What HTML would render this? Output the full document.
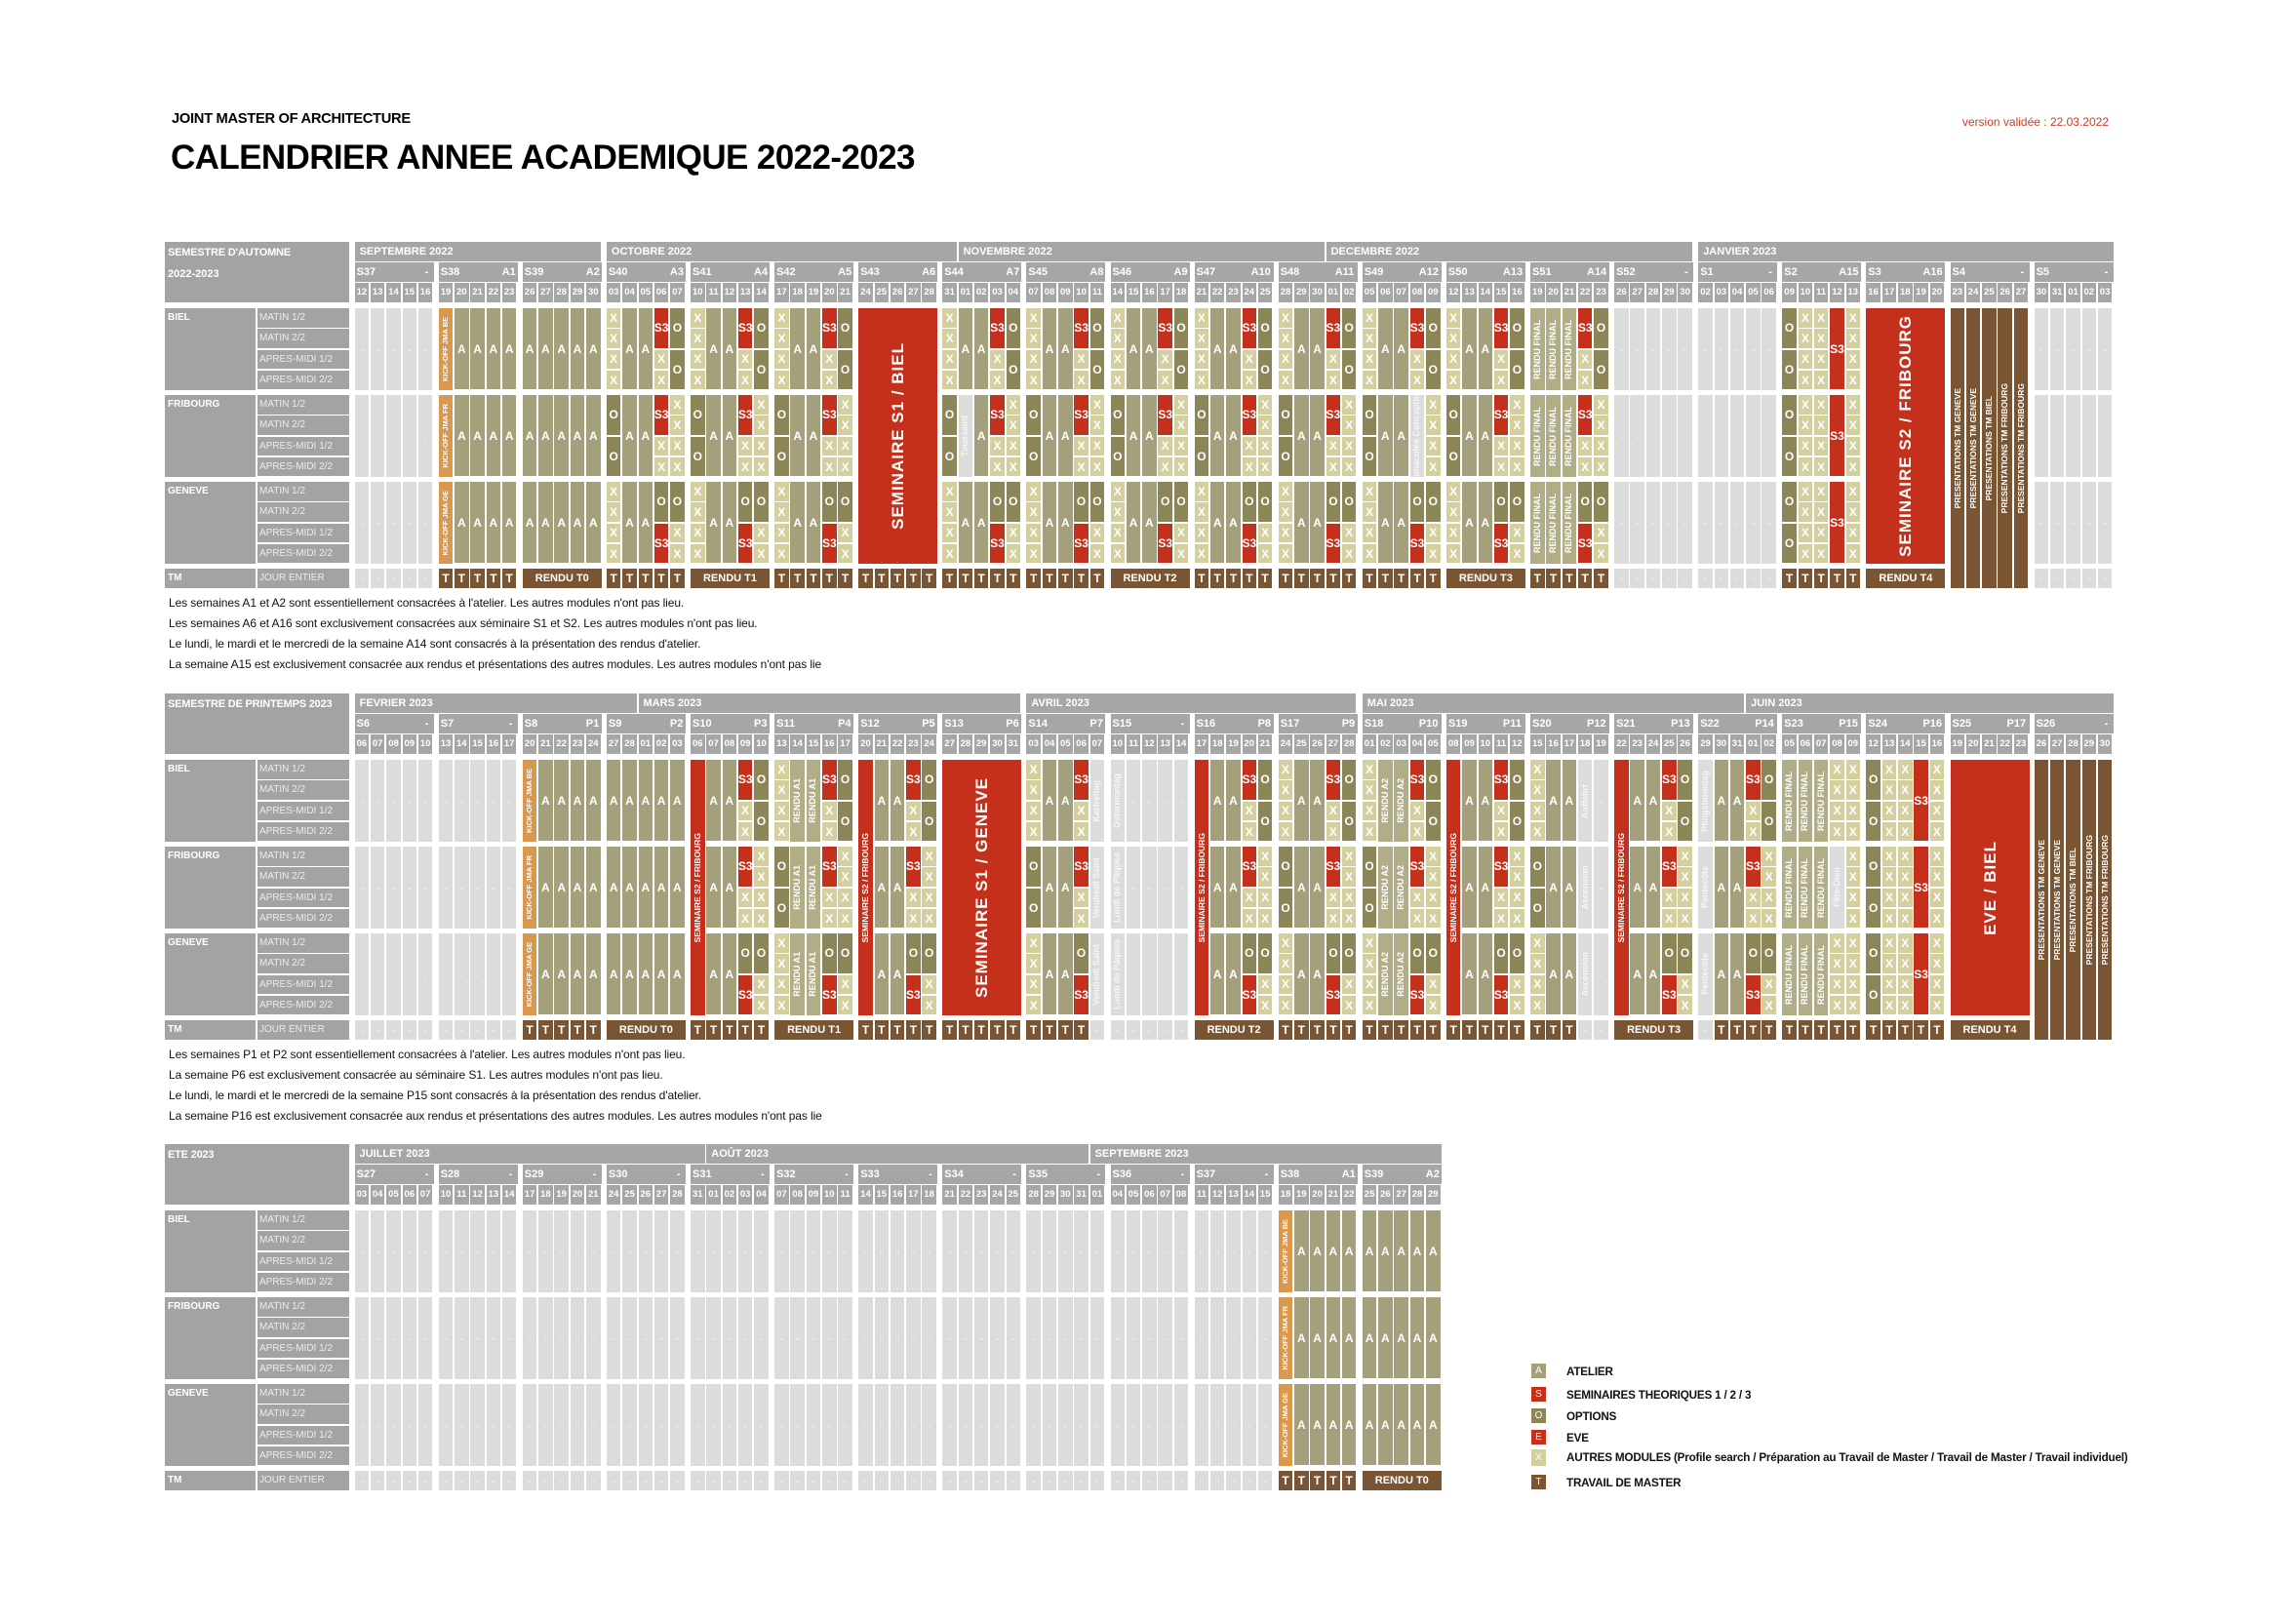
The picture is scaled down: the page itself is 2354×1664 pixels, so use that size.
<!DOCTYPE html>
<html><head><meta charset="utf-8">
<style>
body{margin:0;width:2354px;height:1664px;background:#fff;position:relative;overflow:hidden;font-family:"Liberation Sans",sans-serif;}
.b{position:absolute;box-sizing:border-box;color:#fff;display:flex;align-items:center;justify-content:center;font-size:12px;font-weight:bold;overflow:hidden;white-space:nowrap;line-height:1;}
.v{writing-mode:vertical-rl;transform:rotate(180deg);}
.t{position:absolute;white-space:nowrap;line-height:1;}
</style></head><body>
<div class="t" style="left:176px;top:115px;font-size:14.7px;font-weight:bold;letter-spacing:-0.3px">JOINT MASTER OF ARCHITECTURE</div>
<div class="t" style="left:175px;top:144px;font-size:35px;font-weight:bold;letter-spacing:-0.6px">CALENDRIER ANNEE ACADEMIQUE 2022-2023</div>
<div class="t" style="right:192px;top:119px;font-size:12px;color:#d23a22">version validée : 22.03.2022</div>
<div id="root"></div>
<script>
var C={hdr:'#a6a6a6',lab:'#a3a3a3',G:'#dcdcdc',A:'#a3a07b',X:'#d3cf9e',O:'#8b8558',S:'#c4301c',T:'#7a5533',K:'#d9984e',R:'#b1ae87'};
var root=document.getElementById('root');
function box(x,y,w,h,bg,txt,extra,vert){var d=document.createElement('div');d.className='b';d.style.cssText='left:'+x+'px;top:'+y+'px;width:'+w+'px;height:'+h+'px;background:'+bg+';'+(extra||'');
 if(txt!==undefined&&txt!==''){if(vert){var s=document.createElement('span');s.className='v';s.textContent=txt;d.appendChild(s);}else d.textContent=txt;}
 root.appendChild(d);return d;}
function txt(x,y,s,css){var d=document.createElement('div');d.className='t';d.style.cssText='left:'+x+'px;top:'+y+'px;'+(css||'');d.textContent=s;root.appendChild(d);}
var WX0=363.6,WP=86.1,DP=16.3,DW=14.6,WW=81;
function dx(w,d){return WX0+w*WP+d*DP;}
var TXT={A:'A',X:'X',O:'O',S:'S3'};
var p={A:[[0,4,'A']],X4:[[0,1,'X'],[1,2,'X'],[2,3,'X'],[3,4,'X']],OO:[[0,2,'O'],[2,4,'O']],S3t:[[0,2,'S'],[2,3,'X'],[3,4,'X']],OS:[[0,2,'O'],[2,4,'S']],OXX:[[0,2,'O'],[2,3,'X'],[3,4,'X']],SF:[[0,4,'S']]};
var STD=[['X4','A','A','S3t','OO'],['OO','A','A','S3t','X4'],['X4','A','A','OS','OXX']];
var A15=['OO','X4','X4','SF','X4'];
var cities=['BIEL','FRIBOURG','GENEVE'],subs=['MATIN 1/2','MATIN 2/2','APRES-MIDI 1/2','APRES-MIDI 2/2'];
var MN=['JANVIER','FEVRIER','MARS','AVRIL','MAI','JUIN','JUILLET','AOÛT','SEPTEMBRE','OCTOBRE','NOVEMBRE','DECEMBRE'];
function section(T,label,label2,start,nw,weeks,wlab){
 box(169,T,189,62,C.lab,'', 'display:block;');
 txt(172,T+6,label,'font-size:11px;font-weight:bold;color:#fff;letter-spacing:-0.2px');
 if(label2)txt(172,T+28,label2,'font-size:11px;font-weight:bold;color:#fff');
 var cy=[];for(var c=0;c<3;c++){var y=T+68+c*89;cy.push(y);
  box(169,y,93,84,C.lab,'','display:block');txt(172,y+5,cities[c],'font-size:10px;font-weight:bold;color:#fff');
  for(var r=0;r<4;r++){box(264,y+r*21.3,94,19.5,C.lab,'','display:block');txt(266,y+r*21.3+5,subs[r],'font-size:10px;color:#ececec');}}
 var ty=T+335;box(169,ty,93,20,C.lab,'','display:block');txt(172,ty+5,'TM','font-size:10px;font-weight:bold;color:#fff');
 box(264,ty,94,20,C.lab,'','display:block');txt(266,ty+5,'JOUR ENTIER','font-size:10px;color:#ececec');
 var dates=[];for(var w=0;w<nw;w++){dates.push([]);for(var d=0;d<5;d++){var dt=new Date(start.getTime()+(w*7+d)*86400000);dates[w].push(dt);}}
 var ms=[];for(var w=0;w<nw;w++)for(var d=0;d<5;d++){var dt=dates[w][d];var k=dt.getMonth();if(!ms.length||ms[ms.length-1].k!=k)ms.push({k:k,y:dt.getFullYear(),w0:w,d0:d,n:0});var m=ms[ms.length-1];m.w1=w;m.d1=d;m.n++;}
 if(ms[ms.length-1].n<5)ms.pop();
 ms.forEach(function(m,i){var x0=dx(m.w0,m.d0),x1=(i==ms.length-1)?dx(nw-1,0)+WW:dx(m.w1,m.d1)+DW;box(x0,T,x1-x0,20,C.hdr,'','display:block');txt(x0+5,T+5,MN[m.k]+' '+m.y,'font-size:11px;font-weight:bold;color:#fff');});
 for(var w=0;w<nw;w++){var x=dx(w,0);box(x,T+21,WW,20,C.hdr,'','display:block');txt(x+2,T+26,wlab[w][0],'font-size:11px;font-weight:bold;color:#fff');var rl=wlab[w][1];txt(x+WW-2-rl.length*7,T+26,rl,'font-size:11px;font-weight:bold;color:#fff');
  for(var d=0;d<5;d++){var n=dates[w][d].getDate();box(dx(w,d),T+42,DW,20,C.hdr,(n<10?'0':'')+n,'font-size:9.5px;font-weight:bold;');}}
 weeks.forEach(function(wk,w){
  var kind=wk.k;
  if(kind=='big'){box(dx(w,0),cy[0],WW,262,C.S,wk.txt,'font-size:17px;letter-spacing:1px;',true);}
  else if(kind=='pres'){var pt=['PRESENTATIONS TM GENEVE','PRESENTATIONS TM GENEVE','PRESENTATIONS TM BIEL','PRESENTATIONS TM FRIBOURG','PRESENTATIONS TM FRIBOURG'];for(var d=0;d<5;d++)box(dx(w,d),cy[0],DW,287,C.T,pt[d],'font-size:8.5px;justify-content:center;',true);}
  else{
   for(var c=0;c<3;c++)for(var d=0;d<5;d++){var sp=wk.days(c,d);var y=cy[c];
    if(sp[0]=='G')box(dx(w,d),y,DW,84,C.G,'-','color:#f4f4f4;font-weight:normal');
    else if(sp[0]=='K')box(dx(w,d),y,DW,84,C.K,sp[1],'font-size:7.5px;',true);
    else if(sp[0]=='R')box(dx(w,d),y,DW,84,C.R,sp[1],'font-size:9px;',true);
    else if(sp[0]=='H')box(dx(w,d),y,DW,84,C.G,sp[1],'font-size:9px;color:#f6f6f6;',true);
    else if(sp[0]=='RC'){if(c==0)box(dx(w,d),y,DW,262,C.S,'SEMINAIRE S2 / FRIBOURG','font-size:8.5px;',true);}
    else p[sp[0]].forEach(function(s){box(dx(w,d),y+s[0]*21.3,DW,(s[1]-s[0])*21.3-1.8,C[s[2]],TXT[s[2]]);});}
  }
  if(kind!='pres'){var tm=wk.tm;
   if(typeof tm=='string'&&tm.length>1)box(dx(w,0),ty,WW,20,C.T,tm,'font-size:11px;');
   else for(var d=0;d<5;d++){var ch=(typeof tm=='string')?tm:tm[d];box(dx(w,d),ty,DW,20,ch=='T'?C.T:C.G,ch=='T'?'T':'-',ch=='T'?'':'color:#f4f4f4;font-weight:normal');}}
 });
}
function W(f,tm){return {k:'n',days:f,tm:tm};}
var G=W(function(){return ['G'];},'G');
function std(mod){return function(c,d){if(mod){var r=mod(c,d);if(r)return r;}return [STD[c][d]];};}
function kick(){return function(c,d){return d==0?['K','KICK-OFF JMA '+['BE','FR','GE'][c]]:['A'];};}
var allA=function(){return ['A'];};
var a15=function(c,d){return [A15[d]];};
var rc=function(c,d){if(d==0)return ['RC'];};
function rendu(t){return function(c,d){if(d>=1&&d<=2)return ['R',t];};}
var rf=function(c,d){if(d<=2)return ['R','RENDU FINAL'];};
var s1=[G,W(kick(),'T'),W(allA,'RENDU T0'),W(std(),'T'),W(std(),'RENDU T1'),W(std(),'T'),{k:'big',txt:'SEMINAIRE S1 / BIEL',tm:'T'},
W(std(function(c,d){if(c==1&&d==1)return ['H','Toussaint'];}),'T'),W(std(),'T'),W(std(),'RENDU T2'),W(std(),'T'),W(std(),'T'),
W(std(function(c,d){if(c==1&&d==3)return ['H','Immaculée Conception'];}),'T'),W(std(),'RENDU T3'),W(std(rf),'T'),G,G,W(a15,'T'),{k:'big',txt:'SEMINAIRE S2 / FRIBOURG',tm:'RENDU T4'},{k:'pres'},G];
var wl1=[['S37','-'],['S38','A1'],['S39','A2']];for(var i=40;i<=51;i++)wl1.push(['S'+i,'A'+(i-37)]);wl1.push(['S52','-'],['S1','-'],['S2','A15'],['S3','A16'],['S4','-'],['S5','-']);
section(248,"SEMESTRE D'AUTOMNE",'2022-2023',new Date(2022,8,12,12),21,s1,wl1);
var s2=[G,G,W(kick(),'T'),W(allA,'RENDU T0'),W(std(rc),'T'),W(std(rendu('RENDU A1')),'RENDU T1'),W(std(rc),'T'),{k:'big',txt:'SEMINAIRE S1 / GENEVE',tm:'T'},
W(std(function(c,d){if(d==4)return ['H',c==0?'Karfreitag':'Vendredi Saint'];}),['T','T','T','T','G']),
W(function(c,d){return d==0?['H',c==0?'Ostermontag':'Lundi de Pâques']:['G'];},'G'),
W(std(rc),'RENDU T2'),W(std(),'T'),W(std(rendu('RENDU A2')),'T'),W(std(rc),'T'),
W(std(function(c,d){if(d==3)return ['H',c==0?'Auffahrt':'Ascension'];if(d==4)return ['G'];}),['T','T','T','G','G']),
W(std(rc),'RENDU T3'),W(std(function(c,d){if(d==0)return ['H',c==0?'Pfingstmontag':'Pentecôte'];}),['G','T','T','T','T']),
W(function(c,d){if(d<=2)return ['R','RENDU FINAL'];if(d==3&&c==1)return ['H','Fête-Dieu'];return ['X4'];},'T'),
W(a15,'T'),{k:'big',txt:'EVE / BIEL',tm:'RENDU T4'},{k:'pres'}];
var wl2=[['S6','-'],['S7','-']];for(var i=8;i<=14;i++)wl2.push(['S'+i,'P'+(i-7)]);wl2.push(['S15','-']);for(var i=16;i<=25;i++)wl2.push(['S'+i,'P'+(i-8)]);wl2.push(['S26','-']);
section(711,'SEMESTRE DE PRINTEMPS 2023','',new Date(2023,1,6,12),21,s2,wl2);
var s3=[];for(var i=0;i<11;i++)s3.push(G);s3.push(W(kick(),'T'),W(allA,'RENDU T0'));
var wl3=[];for(var i=27;i<=37;i++)wl3.push(['S'+i,'-']);wl3.push(['S38','A1'],['S39','A2']);
section(1173,'ETE 2023','',new Date(2023,6,3,12),13,s3,wl3);
var n1=["Les semaines A1 et A2 sont essentiellement consacrées à l'atelier. Les autres modules n'ont pas lieu.","Les semaines A6 et A16 sont exclusivement consacrées aux séminaire S1 et S2. Les autres modules n'ont pas lieu.","Le lundi, le mardi et le mercredi de la semaine A14 sont consacrés à la présentation des rendus d'atelier.","La semaine A15 est exclusivement consacrée aux rendus et présentations des autres modules. Les autres modules n'ont pas lie"];
var n2=["Les semaines P1 et P2 sont essentiellement consacrées à l'atelier. Les autres modules n'ont pas lieu.","La semaine P6 est exclusivement consacrée au séminaire S1. Les autres modules n'ont pas lieu.","Le lundi, le mardi et le mercredi de la semaine P15 sont consacrés à la présentation des rendus d'atelier.","La semaine P16 est exclusivement consacrée aux rendus et présentations des autres modules. Les autres modules n'ont pas lie"];
n1.forEach(function(s,i){txt(173,612+i*21,s,'font-size:12px;letter-spacing:-0.1px;color:#111');});
n2.forEach(function(s,i){txt(173,1075+i*21,s,'font-size:12px;letter-spacing:-0.1px;color:#111');});
var lg=[['A',C.A,'ATELIER',1398],['S',C.S,'SEMINAIRES THEORIQUES 1 / 2 / 3',1422],['O',C.O,'OPTIONS',1444],['E',C.S,'EVE',1466],['X',C.X,'AUTRES MODULES (Profile search / Préparation au Travail de Master /  Travail de Master / Travail individuel)',1486],['T',C.T,'TRAVAIL DE MASTER',1512]];
lg.forEach(function(l){box(1570,l[3],15,l[0]=='X'?17:15,l[1],l[0],'font-size:10px;font-weight:normal;');txt(1606,l[3]+3,l[2],'font-size:11.7px;font-weight:bold;letter-spacing:-0.2px;color:#111');});
</script>
</body></html>
